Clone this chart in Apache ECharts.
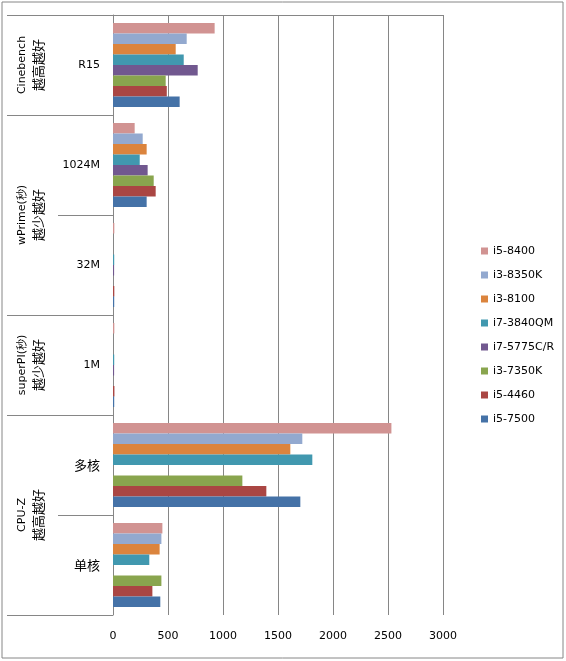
<!DOCTYPE html>
<html><head><meta charset="utf-8">
<script src="https://cdn.jsdelivr.net/npm/echarts@6/dist/echarts.min.js"></script>
<style>html,body{margin:0;padding:0;background:#fff}#c{width:566px;height:661px}</style>
</head><body><div id="c"></div>
<script>
const categories = ['R15', '1024M', '32M', '1M', '多核', '单核'];
const groupLabels = ['Cinebench\n{cn|越高越好}', 'wPrime(秒)\n{cn|越少越好}', 'superPI(秒)\n{cn|越少越好}', 'CPU-Z\n{cn|越高越好}'];
const groupCenters = [0.5, 2, 3.5, 5];
const groupBounds = [0, 1, 3, 4, 6];
const seriesNames = ['i5-8400', 'i3-8350K', 'i3-8100', 'i7-3840QM', 'i7-5775C/R', 'i3-7350K', 'i5-4460', 'i5-7500'];
const colors = ['#D19392', '#93A9CF', '#DB843D', '#4198AF', '#71588F', '#89A54E', '#AA4643', '#4572A7'];
const v_i5_8400  = [924, 197, 12, 12, 2531, 449];
const v_i3_8350K = [670, 270, null, null, 1721, 440];
const v_i3_8100  = [570, 306, null, null, 1612, 424];
const v_i7_3840QM = [643, 243, 11, 11, 1812, 330];
const v_i7_5775CR = [770, 315, 10, 10, null, null];
const v_i3_7350K = [479, 370, null, null, 1176, 440];
const v_i5_4460  = [489, 388, 12, 13, 1394, 358];
const v_i5_7500  = [606, 306, 11, 11, 1703, 430];
const seriesValues = [v_i5_8400, v_i3_8350K, v_i3_8100, v_i7_3840QM, v_i7_5775CR, v_i3_7350K, v_i5_4460, v_i5_7500];
const xTicks = [0, 500, 1000, 1500, 2000, 2500, 3000];

const gray = '#868686';
const font = 'DejaVu Sans';
const chart = echarts.init(document.getElementById('c'));
chart.setOption({
  animation: false,
  backgroundColor: '#fff',
  color: colors,
  grid: { left: 113, right: 123, top: 15, bottom: 46, containLabel: false },
  legend: {
    orient: 'vertical', left: 476, top: 240,
    itemWidth: 7, itemHeight: 7, itemGap: 12, icon: 'rect',
    data: seriesNames,
    textStyle: { fontFamily: font, fontSize: 11, color: '#000', lineHeight: 12 }
  },
  xAxis: {
    type: 'value', min: xTicks[0], max: xTicks[xTicks.length - 1], interval: 500,
    axisLine: { show: true, lineStyle: { color: gray } },
    axisTick: { show: true, length: 4, lineStyle: { color: gray } },
    splitLine: { show: true, lineStyle: { color: gray, width: 1 } },
    axisLabel: { margin: 16, fontFamily: font, fontSize: 11, color: '#000', formatter: v => String(v) }
  },
  yAxis: [{
    type: 'category', inverse: true, data: categories,
    axisLine: { show: true, lineStyle: { color: gray } },
    axisTick: { show: true, length: 55, lineStyle: { color: gray } },
    axisLabel: {
      margin: 13, fontFamily: font, fontSize: 11, color: '#000',
      formatter: v => /[\u4e00-\u9fff]/.test(v) ? '{cn|' + v + '}' : v,
      rich: { cn: { fontFamily: 'Noto Sans CJK SC', fontSize: 13, color: '#000' } }
    }
  }, {
    type: 'value', inverse: true, min: 0, max: 6, position: 'left', offset: 55,
    axisLine: { show: false },
    splitLine: { show: false },
    axisTick: { show: true, length: 51, customValues: groupBounds, lineStyle: { color: gray } },
    axisLabel: {
      show: true, customValues: groupCenters, rotate: 90, margin: 12,
      fontFamily: font, fontSize: 11, color: '#000', lineHeight: 16,
      formatter: v => { const i = groupCenters.indexOf(v); return i >= 0 ? groupLabels[i] : ''; },
      rich: { cn: { fontFamily: 'Noto Sans CJK SC', fontSize: 13, color: '#000', lineHeight: 16 } }
    }
  }],
  series: seriesNames.map((n, i) => ({
    name: n, type: 'bar', data: seriesValues[i], yAxisIndex: 0,
    barGap: '0%', barCategoryGap: '16%'
  })),
  graphic: [{
    type: 'rect', shape: { x: 2, y: 2, width: 561, height: 656 },
    style: { fill: 'none', stroke: gray, lineWidth: 1 }, silent: true, z: -1
  }]
});
</script></body></html>
